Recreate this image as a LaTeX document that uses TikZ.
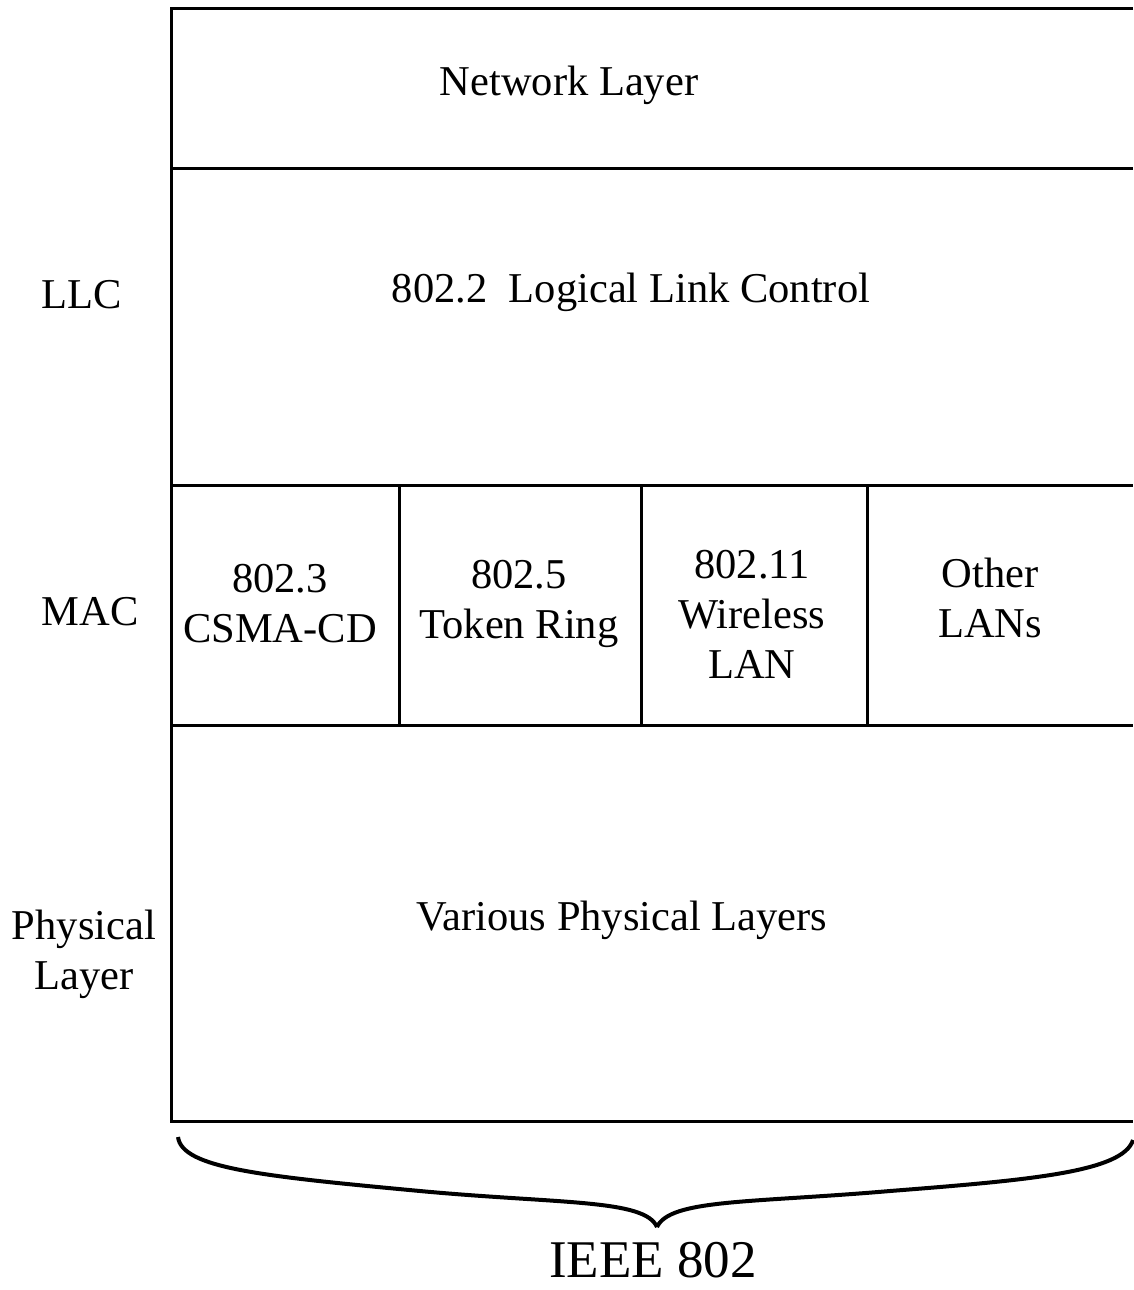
\documentclass[tikz,border=0pt]{standalone}
\usepackage{fontspec}
\setmainfont{Liberation Serif}
\begin{document}
\begin{tikzpicture}[x=1pt,y=-1pt,
  frame/.style={line width=3pt},
  lbl/.style={font=\fontsize{42.5}{50}\selectfont, align=center, inner sep=0pt},
  big/.style={font=\fontsize{53}{60}\selectfont, inner sep=0pt}]
\useasboundingbox (0,0) rectangle (1133,1290);
% frame lines
\draw[frame] (1133,9) -- (171,9) -- (171,1121) -- (1133,1121);
\draw[frame] (171,168) -- (1133,168);
\draw[frame] (171,485) -- (1133,485);
\draw[frame] (171,725) -- (1133,725);
\draw[frame] (399,485) -- (399,725);
\draw[frame] (641,485) -- (641,725);
\draw[frame] (867,485) -- (867,725);
% texts
\node[lbl] (net) at (569,85) {Network Layer};
\node[lbl] (llcbox) at (631,292) {802.2\ \ Logical Link Control};
\node[lbl] (llc) at (82,295) {LLC};
\node[lbl] (mac) at (90,612) {MAC};
\node[lbl] (phy) at (84,954) {Physical\\Layer};
\node[lbl] (csma) at (280,604) {802.3\\CSMA-CD};
\node[lbl] (token) at (519,604) {802.5\\Token Ring};
\node[lbl] (wlan) at (752,614) {802.11\\Wireless\\LAN};
\node[lbl] (other) at (990,598) {Other\\LANs};
\node[lbl] (phys) at (622,920) {Various Physical Layers};
% brace
\coordinate (bl) at (178,1137);
\coordinate (br) at (1133,1140);
\coordinate (bt) at (657,1227);
\draw[line width=4pt] (bl) .. controls (182,1168) and (260,1176) .. (420,1191)
  .. controls (560,1204) and (645,1199) .. (bt);
\draw[line width=4pt] (br) .. controls (1123,1172) and (1030,1180) .. (890,1191)
  .. controls (750,1203) and (670,1199) .. (bt);
\node[big, anchor=base] (ieee) at (653,1277) {IEEE 802};
\end{tikzpicture}
\end{document}
